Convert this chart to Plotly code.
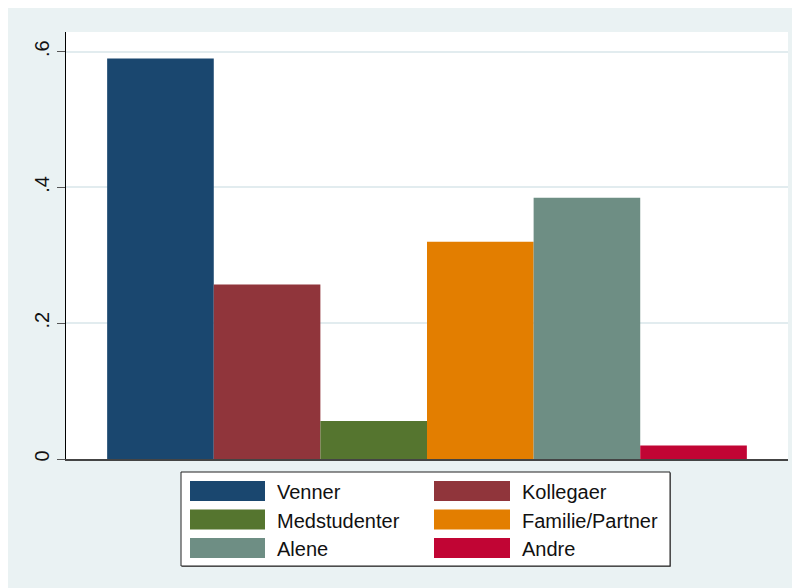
import plotly.graph_objects as go

categories = ["Venner", "Kollegaer", "Medstudenter", "Familie/Partner", "Alene", "Andre"]
values = [0.590, 0.257, 0.056, 0.320, 0.385, 0.020]
colors = ["#1A476F", "#90353B", "#55752F", "#E37E00", "#6E8E84", "#C10534"]
tick_vals = [0, 0.2, 0.4, 0.6]
tick_text = ["0", ".2", ".4", ".6"]

OFF = 8  # page body margin
W, H = 800, 588
# plot area in page pixels: x 66..788, y 32..459
L = 66 - OFF
R = W - (788 - OFF)
T = 32 - OFF
B = H - (459 - OFF)
PW, PH = W - L - R, H - T - B


def px2x(px):
    return (px - OFF - L) / PW


def py2y(py):
    return (H - B - (py - OFF)) / PH


fig = go.Figure()
for cat, val, col in zip(categories, values, colors):
    fig.add_trace(go.Bar(x=["g"], y=[val], name=cat, marker=dict(color=col, line=dict(width=0)),
                         showlegend=False))

shapes = [
    dict(type="rect", xref="paper", yref="paper", x0=px2x(182), x1=px2x(671), y0=py2y(473), y1=py2y(567),
         fillcolor="#777777", line=dict(width=0), layer="above"),
    dict(type="rect", xref="paper", yref="paper", x0=px2x(181), x1=px2x(670), y0=py2y(472), y1=py2y(566),
         fillcolor="white", line=dict(color="#222222", width=1), layer="above"),
]
annotations = []
col_sw = [(190, 265), (434, 510)]
col_tx = [277, 522]
row_c = [491, 519.5, 548]
for i, (cat, col) in enumerate(zip(categories, colors)):
    c, r = i % 2, i // 2
    sx0, sx1 = col_sw[c]
    yc = row_c[r]
    shapes.append(dict(type="rect", xref="paper", yref="paper", x0=px2x(sx0), x1=px2x(sx1),
                       y0=py2y(yc + 10), y1=py2y(yc - 10), fillcolor=col,
                       line=dict(width=0), layer="above"))
    annotations.append(dict(xref="paper", yref="paper", x=px2x(col_tx[c]), y=py2y(yc + 1), text=cat,
                            showarrow=False, xanchor="left", yanchor="middle", xshift=-2,
                            font=dict(size=20, color="#111111")))

fig.update_layout(
    width=W, height=H,
    margin=dict(l=L, r=R, t=T, b=B),
    paper_bgcolor="#EAF2F3",
    plot_bgcolor="white",
    barmode="group",
    bargap=0.114,
    bargroupgap=0,
    showlegend=False,
    font=dict(family="Liberation Sans, Arial, sans-serif", color="#111111"),
    shapes=shapes,
    annotations=annotations,
    xaxis=dict(showticklabels=False, ticks="", showgrid=False, showline=True,
               linecolor="#444444", linewidth=1.5, zeroline=False, range=[-0.5, 0.5]),
    yaxis=dict(range=[0, 0.629], tickvals=tick_vals, ticktext=tick_text, tickangle=-90,
               ticks="outside", ticklen=8, tickcolor="#555555", tickwidth=1,
               showline=True, linecolor="#000000", linewidth=1,
               showgrid=True, gridcolor="#E2ECEF", gridwidth=1.5, zeroline=False,
               tickfont=dict(size=20, color="#111111")),
)

fig.write_html("out.html")
